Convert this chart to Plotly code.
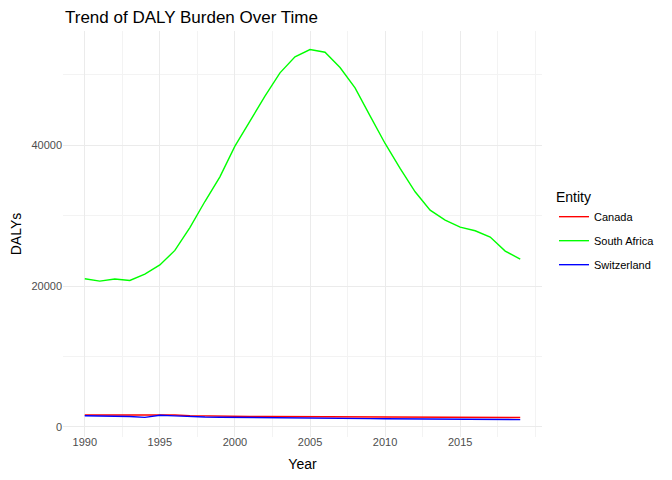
import plotly.graph_objects as go

years = list(range(1990, 2020))

canada = [1700, 1710, 1720, 1730, 1720, 1760, 1700, 1620, 1570, 1540,
          1520, 1500, 1490, 1480, 1470, 1480, 1460, 1450, 1440, 1430,
          1420, 1410, 1400, 1400, 1390, 1380, 1370, 1370, 1360, 1350]
south_africa = [21030, 20700, 21000, 20800, 21700, 23000, 25060, 28300, 32000, 35500,
                39860, 43400, 46950, 50260, 52530, 53570, 53190, 51020, 48130, 44160,
                40240, 36690, 33380, 30780, 29360, 28370, 27850, 26950, 24960, 23830]
switzerland = [1600, 1570, 1530, 1480, 1370, 1660, 1580, 1470, 1420, 1390,
               1360, 1330, 1300, 1280, 1260, 1250, 1240, 1220, 1210, 1190,
               1180, 1160, 1150, 1140, 1130, 1120, 1100, 1090, 1070, 1050]

series = [
    ("Canada", canada, "#FF0000"),
    ("South Africa", south_africa, "#00FF00"),
    ("Switzerland", switzerland, "#0000FF"),
]

x_ticks = [1990, 1995, 2000, 2005, 2010, 2015]
x_minor = [1992.5, 1997.5, 2002.5, 2007.5, 2012.5, 2017.5, 2020]
y_ticks = [0, 20000, 40000]
y_labels = ["0", "20000", "40000"]
y_minor = [10000, 30000, 50000]

fig = go.Figure()
for name, vals, color in series:
    fig.add_trace(go.Scatter(
        x=years, y=vals, mode="lines", name=name,
        line=dict(color=color, width=1.4), legendgroup=name,
    ))

# the page body adds an 8px offset, so margins are shifted to compensate
font = "Liberation Sans, Arial, sans-serif"
fig.update_layout(
    width=672, height=480,
    margin=dict(l=55, r=138, t=23, b=51, autoexpand=False),
    paper_bgcolor="white", plot_bgcolor="white",
    font=dict(family=font, color="black"),
    title=dict(text="Trend of DALY Burden Over Time", x=57 / 672, xanchor="left",
               y=1 - 9 / 480, yanchor="middle", font=dict(size=17, color="black")),
    legend=dict(title=dict(text="Entity", font=dict(size=14)), font=dict(size=11),
                x=1.025, xanchor="left", y=0.505, yanchor="middle", itemwidth=30,
                tracegroupgap=5, bgcolor="rgba(0,0,0,0)"),
)
fig.update_xaxes(
    range=[1988.55, 2020.45], tickvals=x_ticks, showline=False, zeroline=False,
    automargin=False, gridcolor="#EBEBEB", gridwidth=1.2, ticks="",
    tickfont=dict(size=11, color="#4D4D4D"), ticklabelstandoff=-3,
    title=dict(text="Year", font=dict(size=14), standoff=12),
    minor=dict(tickvals=x_minor, showgrid=True, gridcolor="#F3F3F3", gridwidth=0.7),
)
fig.update_yaxes(
    range=[-1420, 56200], tickvals=y_ticks, ticktext=y_labels, showline=False,
    zeroline=False, automargin=False, gridcolor="#EBEBEB", gridwidth=1.2, ticks="",
    tickfont=dict(size=11, color="#4D4D4D"),
    title=dict(text="DALYs", font=dict(size=14), standoff=10),
    minor=dict(tickvals=y_minor, showgrid=True, gridcolor="#F3F3F3", gridwidth=0.7),
)

fig.write_html("out.html")
